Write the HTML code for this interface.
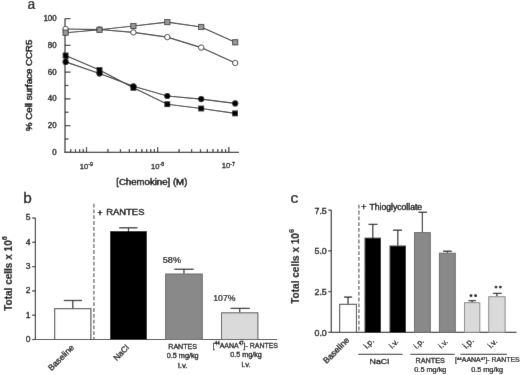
<!DOCTYPE html>
<html><head><meta charset="utf-8"><style>
html,body{margin:0;padding:0;background:#fff;}
body{width:520px;height:375px;overflow:hidden;}
svg{display:block;font-family:"Liberation Sans",sans-serif;}
</style></head><body>
<svg width="520" height="375" viewBox="0 0 520 375">
<defs><filter id="bl" x="0" y="0" width="100%" height="100%" filterUnits="userSpaceOnUse" primitiveUnits="userSpaceOnUse"><feConvolveMatrix order="3" kernelMatrix="0.00524 0.06192 0.00524 0.06192 0.73137 0.06192 0.00524 0.06192 0.00524" edgeMode="duplicate"/></filter></defs>
<g filter="url(#bl)">
<rect x="0" y="0" width="520" height="375" fill="#fff"/>
<line x1="65.00" y1="18.60" x2="65.00" y2="152.90" stroke="#2a2a2a" stroke-width="1.2" />
<line x1="64.50" y1="152.40" x2="239.00" y2="152.40" stroke="#2a2a2a" stroke-width="1.2" />
<line x1="65.00" y1="152.40" x2="70.50" y2="152.40" stroke="#2a2a2a" stroke-width="1.2" />
<line x1="65.00" y1="139.02" x2="68.50" y2="139.02" stroke="#2a2a2a" stroke-width="1.2" />
<line x1="65.00" y1="125.64" x2="70.50" y2="125.64" stroke="#2a2a2a" stroke-width="1.2" />
<line x1="65.00" y1="112.26" x2="68.50" y2="112.26" stroke="#2a2a2a" stroke-width="1.2" />
<line x1="65.00" y1="98.88" x2="70.50" y2="98.88" stroke="#2a2a2a" stroke-width="1.2" />
<line x1="65.00" y1="85.50" x2="68.50" y2="85.50" stroke="#2a2a2a" stroke-width="1.2" />
<line x1="65.00" y1="72.12" x2="70.50" y2="72.12" stroke="#2a2a2a" stroke-width="1.2" />
<line x1="65.00" y1="58.74" x2="68.50" y2="58.74" stroke="#2a2a2a" stroke-width="1.2" />
<line x1="65.00" y1="45.36" x2="70.50" y2="45.36" stroke="#2a2a2a" stroke-width="1.2" />
<line x1="65.00" y1="31.98" x2="68.50" y2="31.98" stroke="#2a2a2a" stroke-width="1.2" />
<line x1="65.00" y1="18.60" x2="70.50" y2="18.60" stroke="#2a2a2a" stroke-width="1.2" />
<line x1="70.72" y1="152.40" x2="70.72" y2="149.10" stroke="#2a2a2a" stroke-width="1.2" />
<line x1="75.48" y1="152.40" x2="75.48" y2="149.10" stroke="#2a2a2a" stroke-width="1.2" />
<line x1="79.60" y1="152.40" x2="79.60" y2="149.10" stroke="#2a2a2a" stroke-width="1.2" />
<line x1="83.24" y1="152.40" x2="83.24" y2="149.10" stroke="#2a2a2a" stroke-width="1.2" />
<line x1="86.50" y1="152.40" x2="86.50" y2="147.10" stroke="#2a2a2a" stroke-width="1.2" />
<line x1="107.92" y1="152.40" x2="107.92" y2="149.10" stroke="#2a2a2a" stroke-width="1.2" />
<line x1="120.45" y1="152.40" x2="120.45" y2="149.10" stroke="#2a2a2a" stroke-width="1.2" />
<line x1="129.34" y1="152.40" x2="129.34" y2="149.10" stroke="#2a2a2a" stroke-width="1.2" />
<line x1="136.23" y1="152.40" x2="136.23" y2="149.10" stroke="#2a2a2a" stroke-width="1.2" />
<line x1="141.87" y1="152.40" x2="141.87" y2="149.10" stroke="#2a2a2a" stroke-width="1.2" />
<line x1="146.63" y1="152.40" x2="146.63" y2="149.10" stroke="#2a2a2a" stroke-width="1.2" />
<line x1="150.75" y1="152.40" x2="150.75" y2="149.10" stroke="#2a2a2a" stroke-width="1.2" />
<line x1="154.39" y1="152.40" x2="154.39" y2="149.10" stroke="#2a2a2a" stroke-width="1.2" />
<line x1="157.65" y1="152.40" x2="157.65" y2="147.10" stroke="#2a2a2a" stroke-width="1.2" />
<line x1="179.07" y1="152.40" x2="179.07" y2="149.10" stroke="#2a2a2a" stroke-width="1.2" />
<line x1="191.60" y1="152.40" x2="191.60" y2="149.10" stroke="#2a2a2a" stroke-width="1.2" />
<line x1="200.49" y1="152.40" x2="200.49" y2="149.10" stroke="#2a2a2a" stroke-width="1.2" />
<line x1="207.38" y1="152.40" x2="207.38" y2="149.10" stroke="#2a2a2a" stroke-width="1.2" />
<line x1="213.02" y1="152.40" x2="213.02" y2="149.10" stroke="#2a2a2a" stroke-width="1.2" />
<line x1="217.78" y1="152.40" x2="217.78" y2="149.10" stroke="#2a2a2a" stroke-width="1.2" />
<line x1="221.90" y1="152.40" x2="221.90" y2="149.10" stroke="#2a2a2a" stroke-width="1.2" />
<line x1="225.54" y1="152.40" x2="225.54" y2="149.10" stroke="#2a2a2a" stroke-width="1.2" />
<line x1="228.80" y1="152.40" x2="228.80" y2="147.10" stroke="#2a2a2a" stroke-width="1.2" />
<polyline points="65.6,32.7 99.5,29.8 133.4,26.0 167.3,22.1 201.2,27.0 235.2,42.3" fill="none" stroke="#2a2a2a" stroke-width="1.15"/>
<polyline points="65.6,29.0 99.5,29.5 133.4,32.4 167.3,37.1 201.2,47.6 235.2,63.0" fill="none" stroke="#2a2a2a" stroke-width="1.15"/>
<polyline points="65.6,55.5 99.5,70.0 133.4,87.8 167.3,104.2 201.2,108.5 235.2,113.4" fill="none" stroke="#2a2a2a" stroke-width="1.15"/>
<polyline points="65.6,61.9 99.5,73.5 133.4,86.3 167.3,96.0 201.2,99.1 235.2,103.4" fill="none" stroke="#2a2a2a" stroke-width="1.15"/>
<rect x="62.7" y="52.6" width="5.8" height="5.8" fill="#000"/>
<rect x="96.6" y="67.1" width="5.8" height="5.8" fill="#000"/>
<rect x="130.5" y="84.9" width="5.8" height="5.8" fill="#000"/>
<rect x="164.4" y="101.3" width="5.8" height="5.8" fill="#000"/>
<rect x="198.3" y="105.6" width="5.8" height="5.8" fill="#000"/>
<rect x="232.2" y="110.5" width="5.8" height="5.8" fill="#000"/>
<circle cx="65.6" cy="61.9" r="3.1" fill="#000"/>
<circle cx="99.5" cy="73.5" r="3.1" fill="#000"/>
<circle cx="133.4" cy="86.3" r="3.1" fill="#000"/>
<circle cx="167.3" cy="96.0" r="3.1" fill="#000"/>
<circle cx="201.2" cy="99.1" r="3.1" fill="#000"/>
<circle cx="235.2" cy="103.4" r="3.1" fill="#000"/>
<circle cx="65.6" cy="29.0" r="2.7" fill="#fff" stroke="#222" stroke-width="0.9"/>
<circle cx="99.5" cy="29.5" r="2.7" fill="#fff" stroke="#222" stroke-width="0.9"/>
<circle cx="133.4" cy="32.4" r="2.7" fill="#fff" stroke="#222" stroke-width="0.9"/>
<circle cx="167.3" cy="37.1" r="2.7" fill="#fff" stroke="#222" stroke-width="0.9"/>
<circle cx="201.2" cy="47.6" r="2.7" fill="#fff" stroke="#222" stroke-width="0.9"/>
<circle cx="235.2" cy="63.0" r="2.7" fill="#fff" stroke="#222" stroke-width="0.9"/>
<rect x="63.0" y="30.1" width="5.2" height="5.2" fill="#999" stroke="#333" stroke-width="0.9"/>
<rect x="96.9" y="27.2" width="5.2" height="5.2" fill="#999" stroke="#333" stroke-width="0.9"/>
<rect x="130.8" y="23.4" width="5.2" height="5.2" fill="#999" stroke="#333" stroke-width="0.9"/>
<rect x="164.7" y="19.5" width="5.2" height="5.2" fill="#999" stroke="#333" stroke-width="0.9"/>
<rect x="198.6" y="24.4" width="5.2" height="5.2" fill="#999" stroke="#333" stroke-width="0.9"/>
<rect x="232.6" y="39.7" width="5.2" height="5.2" fill="#999" stroke="#333" stroke-width="0.9"/>
<line x1="35.40" y1="218.00" x2="35.40" y2="339.50" stroke="#2a2a2a" stroke-width="1.2" />
<line x1="35.40" y1="339.50" x2="277.00" y2="339.50" stroke="#2a2a2a" stroke-width="1.2" />
<line x1="32.20" y1="339.50" x2="35.40" y2="339.50" stroke="#2a2a2a" stroke-width="1.2" />
<line x1="32.20" y1="315.20" x2="35.40" y2="315.20" stroke="#2a2a2a" stroke-width="1.2" />
<line x1="32.20" y1="290.90" x2="35.40" y2="290.90" stroke="#2a2a2a" stroke-width="1.2" />
<line x1="32.20" y1="266.60" x2="35.40" y2="266.60" stroke="#2a2a2a" stroke-width="1.2" />
<line x1="32.20" y1="242.30" x2="35.40" y2="242.30" stroke="#2a2a2a" stroke-width="1.2" />
<line x1="32.20" y1="218.00" x2="35.40" y2="218.00" stroke="#2a2a2a" stroke-width="1.2" />
<line x1="72.80" y1="308.2" x2="72.80" y2="300.5" stroke="#222" stroke-width="1.2"/>
<line x1="63.80" y1="300.50" x2="82.10" y2="300.50" stroke="#222" stroke-width="1.3" />
<rect x="54.70" y="308.70" width="36.20" height="30.80" fill="#fff" stroke="#333" stroke-width="1"/>
<line x1="128.50" y1="231.1" x2="128.50" y2="227.8" stroke="#222" stroke-width="1.2"/>
<line x1="119.20" y1="227.80" x2="137.40" y2="227.80" stroke="#222" stroke-width="1.3" />
<rect x="110.60" y="231.60" width="35.80" height="107.90" fill="#000" stroke="#000" stroke-width="1"/>
<line x1="183.95" y1="273.5" x2="183.95" y2="269.3" stroke="#222" stroke-width="1.2"/>
<line x1="174.30" y1="269.30" x2="193.70" y2="269.30" stroke="#222" stroke-width="1.3" />
<rect x="165.60" y="274.00" width="36.70" height="65.50" fill="#898989" stroke="#666" stroke-width="1"/>
<line x1="239.70" y1="312.3" x2="239.70" y2="308.4" stroke="#222" stroke-width="1.2"/>
<line x1="230.60" y1="308.40" x2="249.80" y2="308.40" stroke="#222" stroke-width="1.3" />
<rect x="221.50" y="312.80" width="36.40" height="26.70" fill="#dadada" stroke="#555" stroke-width="1"/>
<line x1="93.90" y1="203.70" x2="93.90" y2="339.50" stroke="#7a7a7a" stroke-width="1.5" stroke-dasharray="3.8,2"/>
<line x1="331.30" y1="210.12" x2="331.30" y2="332.30" stroke="#2a2a2a" stroke-width="1.2" />
<line x1="331.30" y1="332.30" x2="516.50" y2="332.30" stroke="#2a2a2a" stroke-width="1.2" />
<line x1="328.30" y1="332.30" x2="331.30" y2="332.30" stroke="#2a2a2a" stroke-width="1.2" />
<line x1="328.30" y1="291.58" x2="331.30" y2="291.58" stroke="#2a2a2a" stroke-width="1.2" />
<line x1="328.30" y1="250.85" x2="331.30" y2="250.85" stroke="#2a2a2a" stroke-width="1.2" />
<line x1="328.30" y1="210.12" x2="331.30" y2="210.12" stroke="#2a2a2a" stroke-width="1.2" />
<line x1="348.05" y1="303.8" x2="348.05" y2="297.1" stroke="#222" stroke-width="1.2"/>
<line x1="344.00" y1="297.10" x2="352.10" y2="297.10" stroke="#222" stroke-width="1.3" />
<rect x="339.70" y="304.30" width="16.70" height="28.00" fill="#fff" stroke="#333" stroke-width="1"/>
<line x1="372.80" y1="237.7" x2="372.80" y2="224.4" stroke="#222" stroke-width="1.2"/>
<line x1="368.50" y1="224.40" x2="377.50" y2="224.40" stroke="#222" stroke-width="1.3" />
<rect x="365.10" y="238.20" width="15.40" height="94.10" fill="#000" stroke="#000" stroke-width="1"/>
<line x1="397.80" y1="245.6" x2="397.80" y2="230.2" stroke="#222" stroke-width="1.2"/>
<line x1="392.90" y1="230.20" x2="402.10" y2="230.20" stroke="#222" stroke-width="1.3" />
<rect x="390.10" y="246.10" width="15.40" height="86.20" fill="#000" stroke="#000" stroke-width="1"/>
<line x1="422.40" y1="232.1" x2="422.40" y2="212.3" stroke="#222" stroke-width="1.2"/>
<line x1="418.50" y1="212.30" x2="427.10" y2="212.30" stroke="#222" stroke-width="1.3" />
<rect x="414.50" y="232.60" width="15.80" height="99.70" fill="#898989" stroke="#666" stroke-width="1"/>
<line x1="447.35" y1="252.7" x2="447.35" y2="251.2" stroke="#222" stroke-width="1.2"/>
<line x1="443.00" y1="251.20" x2="451.70" y2="251.20" stroke="#222" stroke-width="1.3" />
<rect x="439.40" y="253.20" width="15.90" height="79.10" fill="#898989" stroke="#666" stroke-width="1"/>
<line x1="472.15" y1="302.2" x2="472.15" y2="300.6" stroke="#222" stroke-width="1.2"/>
<line x1="468.50" y1="300.60" x2="476.00" y2="300.60" stroke="#222" stroke-width="1.3" />
<rect x="464.50" y="302.70" width="15.30" height="29.60" fill="#dadada" stroke="#888" stroke-width="1"/>
<line x1="496.90" y1="296.2" x2="496.90" y2="293.4" stroke="#222" stroke-width="1.2"/>
<line x1="492.90" y1="293.40" x2="501.70" y2="293.40" stroke="#222" stroke-width="1.3" />
<rect x="488.70" y="296.70" width="16.40" height="35.60" fill="#dadada" stroke="#888" stroke-width="1"/>
<line x1="358.90" y1="204.80" x2="358.90" y2="332.30" stroke="#7a7a7a" stroke-width="1.5" stroke-dasharray="3.8,2"/>
<circle cx="471" cy="295.7" r="1.45" fill="#111"/>
<circle cx="475.6" cy="295.7" r="1.45" fill="#111"/>
<circle cx="496" cy="287.1" r="1.45" fill="#111"/>
<circle cx="500.3" cy="287.1" r="1.45" fill="#111"/>
<line x1="358.20" y1="354.40" x2="402.50" y2="354.40" stroke="#444" stroke-width="1.2" />
<line x1="410.30" y1="354.40" x2="454.70" y2="354.40" stroke="#444" stroke-width="1.2" />
<line x1="460.50" y1="354.40" x2="506.90" y2="354.40" stroke="#444" stroke-width="1.2" />
<g id="t_a" transform="translate(27.46,8.86) rotate(0) scale(0.9218,0.9838)"><text x="0" y="0" font-size="15" font-weight="normal" text-anchor="start" fill="#000" stroke="#000" stroke-width="0.25">a</text></g>
<g id="t_ya100" transform="translate(56.55,21.06) rotate(0) scale(0.9273,0.9600)"><text x="0" y="0" font-size="8.5" font-weight="normal" text-anchor="end" fill="#000" stroke="#000" stroke-width="0.35">100</text></g>
<g id="t_xa9" transform="translate(79.76,168.52) rotate(0) scale(0.9670,0.9475)"><text x="0" y="0" font-size="8" font-weight="normal" text-anchor="start" fill="#000" stroke="#000" stroke-width="0.3">10<tspan font-size="5.5" dy="-3">-9</tspan></text></g>
<g id="t_xa8" transform="translate(151.03,168.52) rotate(0) scale(0.9453,0.9475)"><text x="0" y="0" font-size="8" font-weight="normal" text-anchor="start" fill="#000" stroke="#000" stroke-width="0.3">10<tspan font-size="5.5" dy="-3">-8</tspan></text></g>
<g id="t_xa7" transform="translate(221.76,168.29) rotate(0) scale(0.9670,0.9115)"><text x="0" y="0" font-size="8" font-weight="normal" text-anchor="start" fill="#000" stroke="#000" stroke-width="0.3">10<tspan font-size="5.5" dy="-3">-7</tspan></text></g>
<g id="t_chem" transform="translate(116.24,184.56) rotate(0) scale(1.0152,0.9695)"><text x="0" y="0" font-size="9.5" font-weight="normal" text-anchor="start" fill="#000" stroke="#000" stroke-width="0.45">[Chemokine] (M)</text></g>
<g id="t_ylab_a" transform="translate(32.49,131.01) rotate(-90) scale(1.0202,1.0235)"><text x="0" y="0" font-size="9.5" font-weight="normal" text-anchor="start" fill="#000" stroke="#000" stroke-width="0.5">% Cell surface CCR5</text></g>
<g id="t_b" transform="translate(23.22,203.30) rotate(0) scale(1.0259,1.0222)"><text x="0" y="0" font-size="15" font-weight="normal" text-anchor="start" fill="#000" stroke="#000" stroke-width="0.25">b</text></g>
<g id="t_yb5" transform="translate(30.45,220.45) rotate(0) scale(1.0008,0.9583)"><text x="0" y="0" font-size="8.5" font-weight="normal" text-anchor="end" fill="#000" stroke="#000" stroke-width="0.35">5</text></g>
<g id="t_plus_b" transform="translate(97.48,215.72) rotate(0) scale(0.9069,0.9441)"><text x="0" y="0" font-size="9.5" font-weight="normal" text-anchor="start" fill="#000" stroke="#000" stroke-width="0.5">+</text></g>
<g id="t_rantes_b" transform="translate(106.25,215.27) rotate(0) scale(0.9922,0.9376)"><text x="0" y="0" font-size="9.5" font-weight="normal" text-anchor="start" fill="#000" stroke="#000" stroke-width="0.45">RANTES</text></g>
<g id="t_p58" transform="translate(162.73,262.73) rotate(0) scale(1.0183,1.0621)"><text x="0" y="0" font-size="9" font-weight="normal" text-anchor="start" fill="#000" stroke="#000" stroke-width="0.22">58%</text></g>
<g id="t_p107" transform="translate(213.27,301.48) rotate(0) scale(0.9645,1.0554)"><text x="0" y="0" font-size="9" font-weight="normal" text-anchor="start" fill="#000" stroke="#000" stroke-width="0.22">107%</text></g>
<g id="t_bl_b" transform="translate(51.52,371.24) rotate(-45) scale(0.9448,0.9448)"><text x="0" y="0" font-size="9" font-weight="normal" text-anchor="start" fill="#000" stroke="#000" stroke-width="0.3">Baseline</text></g>
<g id="t_nacl_b" transform="translate(116.65,361.16) rotate(-45) scale(0.9187,0.9187)"><text x="0" y="0" font-size="9" font-weight="normal" text-anchor="start" fill="#000" stroke="#000" stroke-width="0.3">NaCl</text></g>
<g id="t_r1" transform="translate(168.25,349.26) rotate(0) scale(0.9896,0.9963)"><text x="0" y="0" font-size="7.2" font-weight="normal" text-anchor="start" fill="#000" stroke="#000" stroke-width="0.28">RANTES</text></g>
<g id="t_r2" transform="translate(166.75,358.43) rotate(0) scale(1.0113,0.9102)"><text x="0" y="0" font-size="7.2" font-weight="normal" text-anchor="start" fill="#000" stroke="#000" stroke-width="0.28">0.5 mg/kg</text></g>
<g id="t_r3" transform="translate(178.05,367.98) rotate(0) scale(1.0945,0.9876)"><text x="0" y="0" font-size="7.2" font-weight="normal" text-anchor="start" fill="#000" stroke="#000" stroke-width="0.28">i.v.</text></g>
<g id="t_aa1" transform="translate(212.76,347.80) rotate(0) scale(0.9700,0.9847)"><text x="0" y="0" font-size="7.2" font-weight="normal" text-anchor="start" fill="#000" stroke="#000" stroke-width="0.28">[<tspan font-size="4.6" dy="-2.6">44</tspan><tspan dy="2.6">AANA</tspan><tspan font-size="4.6" dy="-2.6">47</tspan><tspan dy="2.6">]- RANTES</tspan></text></g>
<g id="t_aa2" transform="translate(230.15,357.38) rotate(0) scale(1.0016,0.9014)"><text x="0" y="0" font-size="7.2" font-weight="normal" text-anchor="start" fill="#000" stroke="#000" stroke-width="0.28">0.5 mg/kg</text></g>
<g id="t_aa3" transform="translate(241.38,367.12) rotate(0) scale(1.0811,0.9730)"><text x="0" y="0" font-size="7.2" font-weight="normal" text-anchor="start" fill="#000" stroke="#000" stroke-width="0.28">i.v.</text></g>
<g id="t_ylab_b" transform="translate(12.04,310.85) rotate(-90) scale(0.9564,1.0344)"><text x="0" y="0" font-size="10.5" font-weight="bold" text-anchor="start" fill="#000" stroke="#000" stroke-width="0.15">Total cells x 10<tspan font-size="7.6" dy="-4.6">6</tspan></text></g>
<g id="t_c" transform="translate(290.42,202.71) rotate(0) scale(1.0497,0.9838)"><text x="0" y="0" font-size="15" font-weight="normal" text-anchor="start" fill="#000" stroke="#000" stroke-width="0.25">c</text></g>
<g id="t_yc75" transform="translate(326.78,213.71) rotate(0) scale(1.0432,1.0991)"><text x="0" y="0" font-size="8.5" font-weight="normal" text-anchor="end" fill="#000" stroke="#000" stroke-width="0.35">7.5</text></g>
<g id="t_plus_c" transform="translate(360.94,209.84) rotate(0) scale(1.0751,1.1204)"><text x="0" y="0" font-size="8.7" font-weight="normal" text-anchor="start" fill="#000" stroke="#000" stroke-width="0.35">+</text></g>
<g id="t_thio" transform="translate(369.50,209.53) rotate(0) scale(0.9906,0.9842)"><text x="0" y="0" font-size="8.7" font-weight="normal" text-anchor="start" fill="#000" stroke="#000" stroke-width="0.35">Thioglycollate</text></g>
<g id="t_bl_c" transform="translate(326.56,364.12) rotate(-45) scale(1.0171,1.0171)"><text x="0" y="0" font-size="8.5" font-weight="normal" text-anchor="start" fill="#000" stroke="#000" stroke-width="0.3">Baseline</text></g>
<g id="t_ip1" transform="translate(366.98,349.18) rotate(-45) scale(1.0243,1.0243)"><text x="0" y="0" font-size="8" font-weight="normal" text-anchor="start" fill="#000" stroke="#000" stroke-width="0.25">i.p.</text></g>
<g id="t_iv1" transform="translate(392.21,349.02) rotate(-45) scale(0.9862,0.9862)"><text x="0" y="0" font-size="8" font-weight="normal" text-anchor="start" fill="#000" stroke="#000" stroke-width="0.25">i.v.</text></g>
<g id="t_ip2" transform="translate(416.84,349.17) rotate(-45) scale(0.9932,0.9932)"><text x="0" y="0" font-size="8" font-weight="normal" text-anchor="start" fill="#000" stroke="#000" stroke-width="0.25">i.p.</text></g>
<g id="t_iv2" transform="translate(441.60,349.07) rotate(-45) scale(1.0002,1.0002)"><text x="0" y="0" font-size="8" font-weight="normal" text-anchor="start" fill="#000" stroke="#000" stroke-width="0.25">i.v.</text></g>
<g id="t_ip3" transform="translate(466.17,349.28) rotate(-45) scale(1.0935,1.0935)"><text x="0" y="0" font-size="8" font-weight="normal" text-anchor="start" fill="#000" stroke="#000" stroke-width="0.25">i.p.</text></g>
<g id="t_iv3" transform="translate(491.00,348.80) rotate(-45) scale(1.0127,1.0127)"><text x="0" y="0" font-size="8" font-weight="normal" text-anchor="start" fill="#000" stroke="#000" stroke-width="0.25">i.v.</text></g>
<g id="t_nacl_c" transform="translate(369.51,364.26) rotate(0) scale(1.0062,0.9055)"><text x="0" y="0" font-size="8.8" font-weight="normal" text-anchor="start" fill="#000" stroke="#000" stroke-width="0.3">NaCl</text></g>
<g id="t_rc1" transform="translate(415.52,362.76) rotate(0) scale(0.9664,0.9489)"><text x="0" y="0" font-size="7.5" font-weight="normal" text-anchor="start" fill="#000" stroke="#000" stroke-width="0.28">RANTES</text></g>
<g id="t_rc2" transform="translate(414.28,372.15) rotate(0) scale(0.9770,0.8793)"><text x="0" y="0" font-size="7.5" font-weight="normal" text-anchor="start" fill="#000" stroke="#000" stroke-width="0.28">0.5 mg/kg</text></g>
<g id="t_ac1" transform="translate(455.07,362.39) rotate(0) scale(0.9288,0.8507)"><text x="0" y="0" font-size="7.5" font-weight="normal" text-anchor="start" fill="#000" stroke="#000" stroke-width="0.28">[<tspan font-size="4.6" dy="-2.6">44</tspan><tspan dy="2.6">AANA</tspan><tspan font-size="4.6" dy="-2.6">47</tspan><tspan dy="2.6">]- RANTES</tspan></text></g>
<g id="t_ac2" transform="translate(471.19,371.57) rotate(0) scale(0.9712,0.8741)"><text x="0" y="0" font-size="7.5" font-weight="normal" text-anchor="start" fill="#000" stroke="#000" stroke-width="0.28">0.5 mg/kg</text></g>
<g id="t_ylab_c" transform="translate(298.59,303.85) rotate(-90) scale(0.9590,1.0590)"><text x="0" y="0" font-size="10.5" font-weight="bold" text-anchor="start" fill="#000" stroke="#000" stroke-width="0.15">Total cells x 10<tspan font-size="7.6" dy="-4.6">6</tspan></text></g>
<g transform="translate(56.55,154.86) rotate(0) scale(0.9273,0.9600)"><text x="0" y="0" font-size="8.5" font-weight="normal" text-anchor="end" fill="#000" stroke="#000" stroke-width="0.35">0</text></g>
<g transform="translate(56.55,128.10) rotate(0) scale(0.9273,0.9600)"><text x="0" y="0" font-size="8.5" font-weight="normal" text-anchor="end" fill="#000" stroke="#000" stroke-width="0.35">20</text></g>
<g transform="translate(56.55,101.34) rotate(0) scale(0.9273,0.9600)"><text x="0" y="0" font-size="8.5" font-weight="normal" text-anchor="end" fill="#000" stroke="#000" stroke-width="0.35">40</text></g>
<g transform="translate(56.55,74.58) rotate(0) scale(0.9273,0.9600)"><text x="0" y="0" font-size="8.5" font-weight="normal" text-anchor="end" fill="#000" stroke="#000" stroke-width="0.35">60</text></g>
<g transform="translate(56.55,47.82) rotate(0) scale(0.9273,0.9600)"><text x="0" y="0" font-size="8.5" font-weight="normal" text-anchor="end" fill="#000" stroke="#000" stroke-width="0.35">80</text></g>
<g transform="translate(30.45,341.95) rotate(0) scale(1.0008,0.9583)"><text x="0" y="0" font-size="8.5" font-weight="normal" text-anchor="end" fill="#000" stroke="#000" stroke-width="0.35">0</text></g>
<g transform="translate(30.45,317.65) rotate(0) scale(1.0008,0.9583)"><text x="0" y="0" font-size="8.5" font-weight="normal" text-anchor="end" fill="#000" stroke="#000" stroke-width="0.35">1</text></g>
<g transform="translate(30.45,293.35) rotate(0) scale(1.0008,0.9583)"><text x="0" y="0" font-size="8.5" font-weight="normal" text-anchor="end" fill="#000" stroke="#000" stroke-width="0.35">2</text></g>
<g transform="translate(30.45,269.05) rotate(0) scale(1.0008,0.9583)"><text x="0" y="0" font-size="8.5" font-weight="normal" text-anchor="end" fill="#000" stroke="#000" stroke-width="0.35">3</text></g>
<g transform="translate(30.45,244.75) rotate(0) scale(1.0008,0.9583)"><text x="0" y="0" font-size="8.5" font-weight="normal" text-anchor="end" fill="#000" stroke="#000" stroke-width="0.35">4</text></g>
<g transform="translate(326.78,335.89) rotate(0) scale(1.0432,1.0991)"><text x="0" y="0" font-size="8.5" font-weight="normal" text-anchor="end" fill="#000" stroke="#000" stroke-width="0.35">0.0</text></g>
<g transform="translate(326.78,295.16) rotate(0) scale(1.0432,1.0991)"><text x="0" y="0" font-size="8.5" font-weight="normal" text-anchor="end" fill="#000" stroke="#000" stroke-width="0.35">2.5</text></g>
<g transform="translate(326.78,254.44) rotate(0) scale(1.0432,1.0991)"><text x="0" y="0" font-size="8.5" font-weight="normal" text-anchor="end" fill="#000" stroke="#000" stroke-width="0.35">5.0</text></g>
</g>
</svg>
</body></html>
